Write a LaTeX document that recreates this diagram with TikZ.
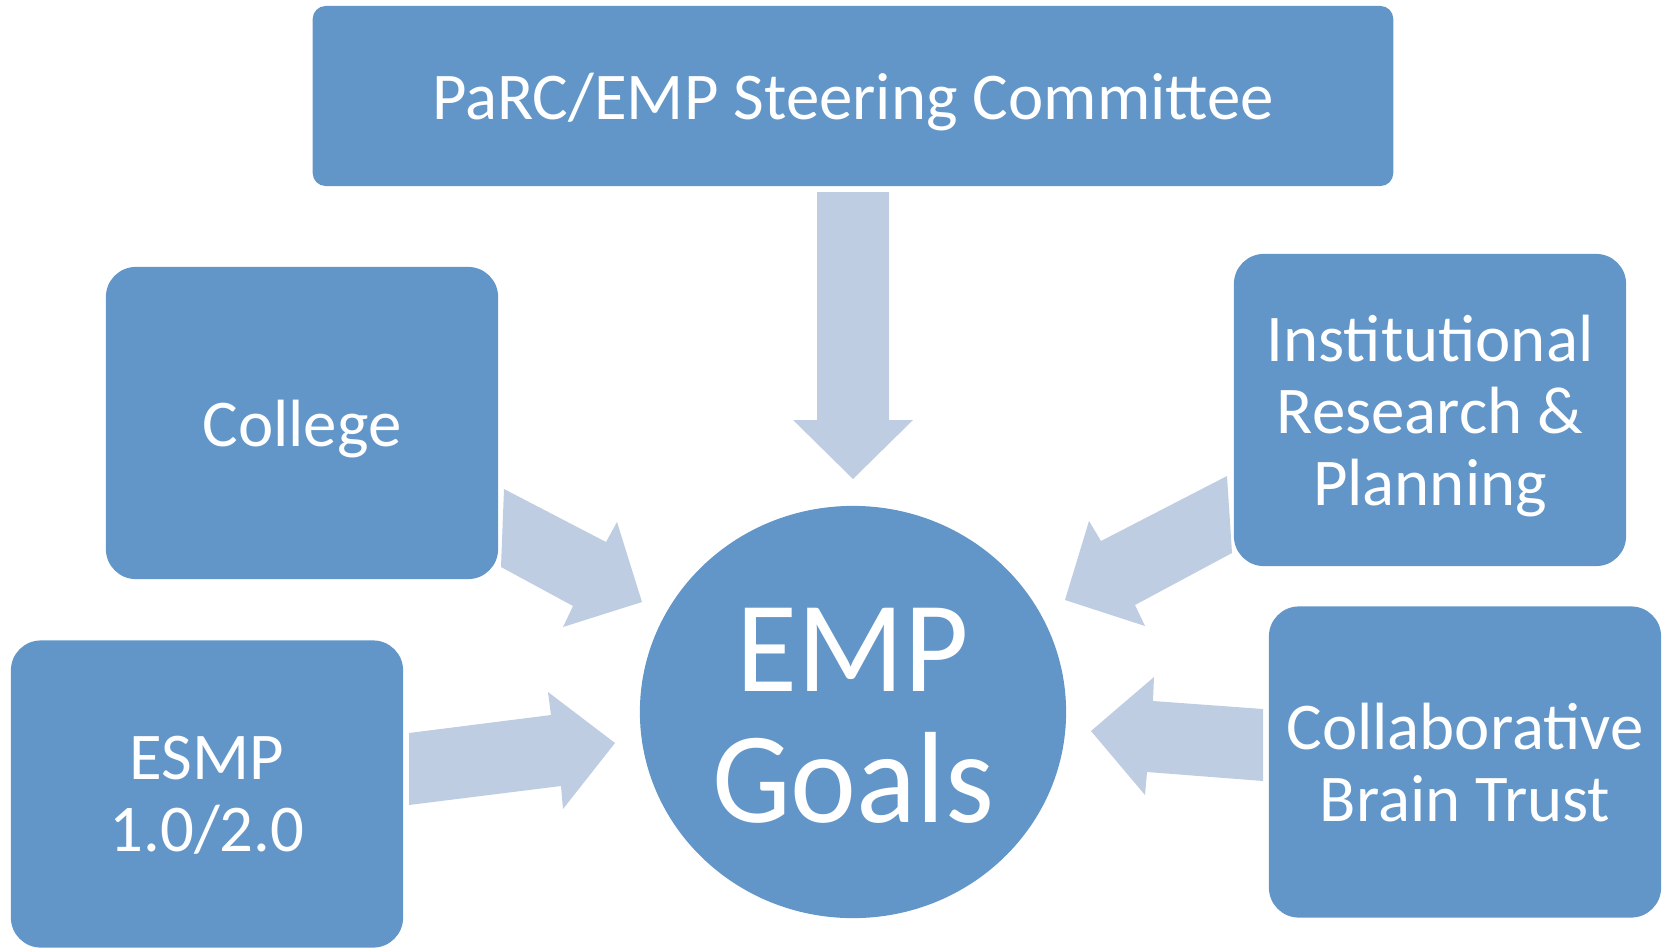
\documentclass[tikz,border=0pt]{standalone}
\usepackage{fontspec}
\setmainfont{Carlito}
\usetikzlibrary{shapes.geometric}
\definecolor{boxblue}{RGB}{98,150,200}
\definecolor{arrowblue}{RGB}{191,205,226}

\begin{document}
\begin{tikzpicture}[x=0.01cm, y=-0.01cm]
	\tikzstyle{every node}=[text=white, align=center]
	\tikzstyle{sidebox}=[fill=boxblue, rounded corners=0.3cm, minimum width=3.92cm, minimum height=3.12cm, text depth=0pt, font=\fontsize{19}{20.5}\selectfont]
	\tikzstyle{blockarrow}=[fill=arrowblue]
	\useasboundingbox (0,0) rectangle (1663,948);

	%Kaesten
	\node[fill=boxblue, rounded corners=0.13cm, minimum width=10.8cm, minimum height=1.8cm, text depth=0pt, font=\fontsize{19}{22}\selectfont] (steer) at (853,96) {PaRC/EMP Steering Committee};
	\node[sidebox] (college) at (302,423) {College};
	\node[sidebox, minimum height=3.07cm] (esmp) at (207,794) {ESMP\\1.0/2.0};
	\node[sidebox] (ir) at (1430,410) {Institutional\\Research \&\\Planning};
	\node[sidebox, minimum height=3.11cm] (cbt) at (1465,762) {Collaborative\\Brain Trust};

	%Ziel in der Mitte
	\node[ellipse, fill=boxblue, minimum width=4.26cm, minimum height=4.12cm, inner sep=0pt] (goals) at (853,712) {};
	\node[yshift=-0.19cm, font=\fontsize{35.5}{35.9}\selectfont] (goalstext) at (goals.center) {\scalebox{1}[1.04]{\begin{tabular}{@{}c@{}}EMP\\Goals\end{tabular}}};

	%Blockpfeile
	\fill[blockarrow] (817,192) -- (889,192) -- (889,420) -- (913,420) -- (853,479) -- (793,420) -- (817,420) -- cycle; %von oben
	\fill[blockarrow] (504,489) -- (606,542) -- (617,522) -- (642,602) -- (563,627) -- (573,606) -- (501,567) -- cycle; %College
	\fill[blockarrow] (409,733) -- (551,715) -- (548,692) -- (615,743) -- (563,809) -- (561,786) -- (409,805) -- cycle; %ESMP
	\fill[blockarrow] (1227,476) -- (1101,541) -- (1089,521) -- (1065,600) -- (1145,626) -- (1135,605) -- (1232,553) -- cycle; %IR
	\fill[blockarrow] (1263,709) -- (1153,701) -- (1154,677) -- (1091,731) -- (1145,795) -- (1147,772) -- (1263,781) -- cycle; %Brain Trust
\end{tikzpicture}
\end{document}
